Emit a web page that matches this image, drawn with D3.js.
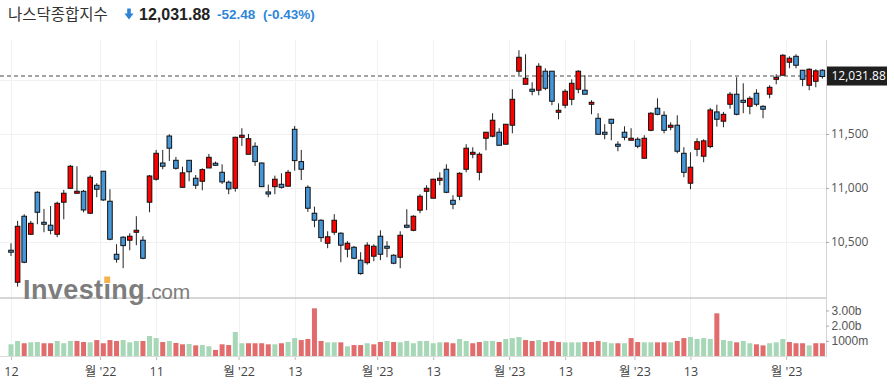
<!DOCTYPE html>
<html><head><meta charset="utf-8">
<script src="https://cdn.jsdelivr.net/npm/d3@7"></script>
<style>
html,body{margin:0;padding:0;background:#fff;}
svg{display:block;}
</style></head>
<body>
<svg id="chart" width="894" height="385"></svg>
<script>
// ---- data ----
const title = "나스닥종합지수";
const lastPrice = 12031.88;
const changeText = "-52.48";
const changePctText = "(-0.43%)";

const opens = [10423,10127,10738,10571,10960,10682,10655,10571,10868,10997,
10951,10969,10766,11025,11155,10877,10386,10544,10516,10590,
10516,10868,11081,11231,11481,11256,11006,11256,11090,11062,
11185,11229,11145,11053,10997,11469,11312,11386,11231,10963,
11012,11034,11016,11543,11244,11006,10766,10701,10488,10590,
10581,10433,10451,10331,10308,10368,10553,10460,10377,10358,
10655,10608,10794,10969,10905,11071,11173,10886,10923,11173,
11312,11145,11460,11479,11516,11405,11581,12081,11960,11914,
11905,12081,12081,11701,11766,11821,11914,11905,11775,11645,
11516,11636,11405,11516,11442,11451,11275,11534,11738,11673,
11562,11581,11321,11044,11358,11294,11383,11704,11618,11775,
11868,11812,11756,11877,11756,11868,12006,12044,12164,12219,
12090,11951,11988,12090];
const highs = [10488,10695,10757,10695,10969,10806,10833,10873,10982,11213,
11201,10982,11118,11044,11157,10988,10479,10553,10581,10738,
10553,11120,11352,11352,11497,11287,11197,11256,11120,11182,
11315,11244,11219,11068,11475,11553,11500,11423,11235,11031,
11114,11136,11167,11574,11352,11025,10827,10710,10599,10757,
10590,10507,10463,10405,10497,10479,10608,10507,10386,10599,
10803,10747,10942,11025,11085,11145,11219,10932,11145,11405,
11377,11330,11518,11692,11553,11592,11914,12275,12238,11979,
12155,12108,12083,11784,11914,12006,12090,12044,11812,11692,
11590,11640,11432,11571,11553,11469,11488,11701,11830,11710,
11608,11673,11377,11330,11460,11451,11741,11771,11704,11889,
12025,11969,11849,11914,11766,11951,12053,12238,12219,12238,
12093,12108,12099,12100];
const lows = [10370,10086,10303,10565,10664,10590,10571,10544,10710,10991,
10951,10775,10759,10914,10880,10516,10308,10257,10423,10470,
10340,10775,11068,11173,11250,11170,11006,11062,10991,10979,
11185,11205,11037,10942,10966,11389,11312,11204,11010,10914,
10942,10994,11016,11160,11074,10778,10636,10500,10442,10565,
10312,10358,10340,10197,10290,10321,10331,10358,10294,10257,
10627,10599,10766,10794,10903,11025,10951,10803,10886,11145,
11275,11071,11349,11469,11395,11403,11506,12044,11958,11858,
11858,11905,11766,11636,11738,11766,11877,11866,11682,11495,
11451,11442,11340,11442,11440,11368,11273,11525,11673,11506,
11534,11321,11099,10988,11294,11238,11368,11568,11562,11734,
11673,11692,11682,11756,11645,11830,11960,12042,12108,12108,
11942,11905,11932,12012];
const closes = [10405,10645,10312,10673,10775,10664,10608,10858,10951,11201,
10969,10796,11099,10988,10889,10525,10340,10466,10553,10608,
10349,11111,11321,11201,11368,11182,11140,11150,11025,11170,
11284,11210,11056,10991,11469,11488,11456,11244,11012,10944,
11081,11006,11145,11253,11173,10812,10701,10540,10548,10701,
10470,10488,10349,10207,10470,10460,10386,10442,10303,10562,
10636,10738,10923,10997,11081,11090,10960,10849,11136,11368,
11330,11312,11516,11627,11395,11590,11821,12210,12016,11895,
12127,11923,11803,11719,11895,11969,12081,11868,11793,11497,
11497,11599,11386,11469,11460,11386,11460,11692,11682,11534,
11581,11340,11145,11192,11428,11436,11722,11636,11682,11868,
11682,11793,11830,11775,11729,11932,12025,12229,12201,12136,
12006,12099,12084.36,12031.88];
// volume, in billions
const volumes = [0.77,0.99,0.84,0.90,0.92,0.84,0.84,0.99,0.84,0.99,
0.99,0.92,0.90,1.05,0.84,1.05,0.99,1.05,0.90,0.99,
0.99,1.32,1.18,0.92,0.99,0.86,0.77,0.79,0.70,0.72,
0.64,0.40,0.77,0.72,1.58,0.84,0.84,0.84,0.84,0.77,
0.77,0.84,0.92,1.18,1.05,1.12,3.14,0.99,0.90,0.90,
0.90,0.64,0.72,0.72,0.84,0.77,0.92,0.99,0.92,0.90,
0.99,0.84,0.99,0.99,0.84,0.90,0.90,0.84,1.12,0.99,
0.84,0.92,0.99,0.99,0.92,1.12,1.18,1.25,1.05,0.99,
1.05,0.92,0.99,0.92,0.90,0.90,0.90,0.92,0.92,0.99,
0.92,0.84,0.84,0.84,1.18,0.92,0.90,0.90,0.90,0.90,
0.90,0.99,1.18,1.25,1.12,1.18,1.12,2.81,1.05,0.99,
0.90,0.99,0.84,0.77,0.70,0.84,0.90,1.12,0.92,0.84,
0.84,0.70,0.84,0.84];

const xTickIdx = [0, 13.5, 22, 34.5, 43, 55.5, 64, 75.5, 84, 94.5, 103, 117.5];
const xTickLabels = ["12","월 '22","11","월 '22","13","월 '23","13","월 '23","13","월 '23","13","월 '23"];
const priceGrid = [10500, 11000, 11500, 12000];
const priceTicks = [10500, 11000, 11500];
const volTickVals = [1, 2, 3];
const volTickLabels = ["1000m", "2.00b", "3.00b"];

// ---- layout ----
const svg = d3.select("#chart");
const plotR = 826, mainT = 40, mainB = 298, volT = 298, volB = 356;
const N = opens.length;
const x = d3.scaleLinear().domain([0, N - 1]).range([11, 822.4]);
const y = d3.scaleLinear().domain([9981, 12370]).range([mainB, mainT]);
const yv = d3.scaleLinear().domain([0, 3.82]).range([volB, volT]);

const UP = "#ff0000", DOWN = "#4597d9";
const VUP = "#a6d7b6", VDOWN = "#e26b6b";
const axisFont = "'Open Sans','Noto Sans CJK KR',sans-serif";
const smallFont = "'Liberation Sans',Arial,sans-serif";

// grid
const grid = svg.append("g");
grid.selectAll("line.h").data(priceGrid).join("line")
  .attr("x1", 0).attr("x2", plotR)
  .attr("y1", d => Math.round(y(d)) + 0.5).attr("y2", d => Math.round(y(d)) + 0.5)
  .attr("stroke", "#f1f1f1");
grid.selectAll("line.v").data(xTickIdx).join("line")
  .attr("x1", d => Math.round(x(d)) + 0.5).attr("x2", d => Math.round(x(d)) + 0.5)
  .attr("y1", mainT).attr("y2", volB + 1)
  .attr("stroke", "#f1f1f1");

// volume bars
const volUp = closes.map((c, i) => i === 0 ? true : c >= closes[i - 1]);
svg.append("g").selectAll("rect").data(volumes).join("rect")
  .attr("x", (d, i) => x(i) - 2.5)
  .attr("width", 5)
  .attr("y", d => yv(d))
  .attr("height", d => volB - yv(d))
  .attr("fill", (d, i) => volUp[i] ? VUP : VDOWN);

// dashed last-price line
svg.append("line")
  .attr("x1", 0).attr("x2", plotR)
  .attr("y1", y(lastPrice) - 0.5).attr("y2", y(lastPrice) - 0.5)
  .attr("stroke", "#a3a3a3").attr("stroke-width", 1.8)
  .attr("stroke-dasharray", "4,3");

// candles
const cg = svg.append("g");
const idx = d3.range(N);
cg.selectAll("line").data(idx).join("line")
  .attr("x1", i => x(i)).attr("x2", i => x(i))
  .attr("y1", i => y(highs[i])).attr("y2", i => y(lows[i]))
  .attr("stroke", "#222").attr("stroke-width", 1);
cg.selectAll("rect").data(idx).join("rect")
  .attr("x", i => x(i) - 2.3)
  .attr("width", 4.6)
  .attr("y", i => {
    const top = y(Math.max(opens[i], closes[i]));
    const h = Math.abs(y(opens[i]) - y(closes[i]));
    return h < 2 ? (top + h / 2 - 1) : top;
  })
  .attr("height", i => Math.max(2, Math.abs(y(opens[i]) - y(closes[i]))))
  .attr("fill", i => closes[i] >= opens[i] ? UP : DOWN)
  .attr("stroke", "#111").attr("stroke-width", 1);

// separator between price and volume panes, bottom line, right axis line
svg.append("line").attr("x1", 0).attr("x2", plotR).attr("y1", mainB).attr("y2", mainB)
  .attr("stroke", "#c9c9c9").attr("stroke-width", 1.5);
svg.append("line").attr("x1", 0).attr("x2", plotR).attr("y1", volB + 0.5).attr("y2", volB + 0.5)
  .attr("stroke", "#dcdcdc");
svg.append("line").attr("x1", plotR + 0.5).attr("x2", plotR + 0.5).attr("y1", mainT).attr("y2", volB + 1)
  .attr("stroke", "#d4d4d4");

// watermark
const wm = svg.append("g").attr("fill", "#7d7d7d");
const wmText = wm.append("text").attr("x", 23).attr("y", 299)
  .attr("font-family", "'Liberation Sans',Arial,sans-serif")
  .attr("font-weight", "bold").attr("font-size", 27).attr("letter-spacing", 0.4)
  .text("Investing");
const wmW = wmText.node().getComputedTextLength();
wm.append("text").attr("x", 23 + wmW + 0.5).attr("y", 299)
  .attr("font-family", "'Liberation Sans',Arial,sans-serif")
  .attr("font-size", 21).attr("letter-spacing", -0.3)
  .text(".com");
try {
  const p = wmText.node().getStartPositionOfChar(6);
  wm.append("rect").attr("x", p.x + 0.8).attr("y", 276.5).attr("width", 6).attr("height", 6.5)
    .attr("fill", "#f6b24e");
} catch (e) {}

// right price axis
const ya = svg.append("g").attr("transform", `translate(${plotR},0)`)
  .call(d3.axisRight(y).tickValues(priceTicks).tickSize(3).tickPadding(2)
    .tickFormat(d3.format(",")));
ya.select(".domain").remove();
ya.selectAll(".tick line").attr("stroke", "#aaa");
ya.selectAll(".tick text").attr("fill", "#555").attr("font-size", 12).attr("font-family", axisFont);

// volume axis
const va = svg.append("g").attr("transform", `translate(${plotR},0)`)
  .call(d3.axisRight(yv).tickValues(volTickVals).tickSize(3).tickPadding(2.5)
    .tickFormat((d, i) => volTickLabels[i]));
va.select(".domain").remove();
va.selectAll(".tick line").attr("stroke", "#aaa");
va.selectAll(".tick text").attr("fill", "#555").attr("font-size", 12).attr("font-family", smallFont);

// x axis
const xa = svg.append("g").attr("transform", `translate(0,${volB + 1})`)
  .call(d3.axisBottom(x).tickValues(xTickIdx).tickSize(3).tickPadding(7)
    .tickFormat((d, i) => xTickLabels[i]));
xa.select(".domain").remove();
xa.selectAll(".tick line").attr("stroke", "#bbb");
xa.selectAll(".tick text").attr("fill", "#444").attr("font-size", 12.5).attr("font-family", axisFont);

// last price label
const ly = y(lastPrice);
svg.append("rect").attr("x", plotR + 1).attr("y", ly - 10).attr("width", 60).attr("height", 19)
  .attr("fill", "#1f1f1f");
svg.append("text").attr("x", plotR + 5.5).attr("y", ly - 0.5).attr("dy", "0.35em")
  .attr("fill", "#fff").attr("font-size", 12).attr("font-family", axisFont)
  .text(d3.format(",.2f")(lastPrice));

// header
svg.append("text").attr("x", 8).attr("y", 14).attr("dy", "0.36em")
  .attr("font-family", "'Noto Sans CJK KR',sans-serif").attr("font-size", 15.5)
  .attr("fill", "#333").text(title);
svg.append("path")
  .attr("d", "M127.2,8.5 H130.8 V13.6 H133.6 L129,19.6 L124.4,13.6 H127.2 Z")
  .attr("fill", "#2f83d6");
svg.append("text").attr("x", 139).attr("y", 14).attr("dy", "0.36em")
  .attr("font-family", "'Liberation Sans',Arial,sans-serif").attr("font-weight", "bold")
  .attr("font-size", 16).attr("fill", "#222").text(d3.format(",.2f")(lastPrice));
svg.append("text").attr("x", 217).attr("y", 14).attr("dy", "0.36em")
  .attr("font-family", "'Liberation Sans',Arial,sans-serif").attr("font-weight", "bold")
  .attr("font-size", 13.5).attr("fill", "#2f86d8").text(changeText);
svg.append("text").attr("x", 263).attr("y", 14).attr("dy", "0.36em")
  .attr("font-family", "'Liberation Sans',Arial,sans-serif").attr("font-weight", "bold")
  .attr("font-size", 13.5).attr("fill", "#2f86d8").text(changePctText);
</script>
</body></html>
